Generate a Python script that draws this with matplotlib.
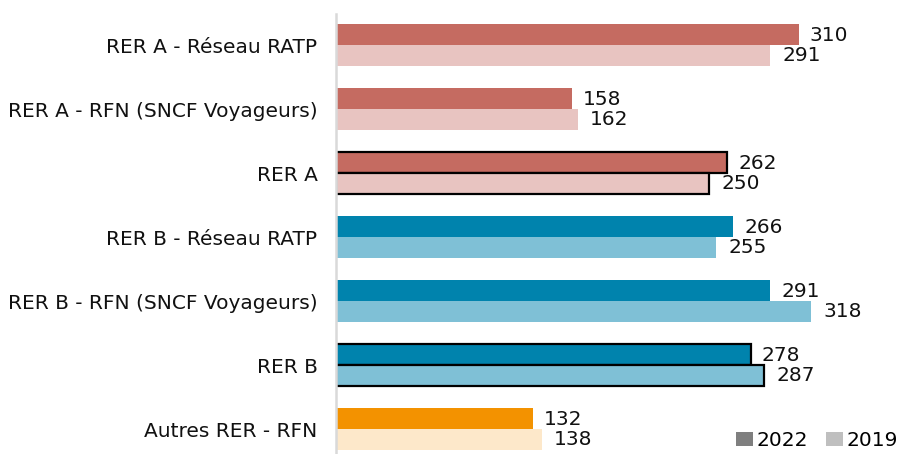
import matplotlib
matplotlib.use("Agg")
import matplotlib.pyplot as plt
from matplotlib.patches import Patch
import numpy as np

categories = ["RER A - Réseau RATP", "RER A - RFN (SNCF Voyageurs)", "RER A",
              "RER B - Réseau RATP", "RER B - RFN (SNCF Voyageurs)", "RER B",
              "Autres RER - RFN"]
values_2022 = [310, 158, 262, 266, 291, 278, 132]
values_2019 = [291, 162, 250, 255, 318, 287, 138]
series_labels = ["2022", "2019"]

colors_2022 = ["#C56B61", "#C56B61", "#C56B61", "#0083AD", "#0083AD", "#0083AD", "#F39200"]
colors_2019 = ["#E8C4C1", "#E8C4C1", "#E8C4C1", "#7FC0D6", "#7FC0D6", "#7FC0D6", "#FDE8CA"]
outlined = [False, False, True, False, False, True, False]

plt.rcParams['font.family'] = ['DejaVu Sans']
FS = 14.5

fig = plt.figure(figsize=(8.99, 4.54), dpi=100)
ax = fig.add_axes([335.5 / 899, 0, (899 - 335.5) / 899, 1 - 14 / 454])

y = np.arange(len(categories))
h = 0.333
for i in range(len(categories)):
    lw = 1.6 if outlined[i] else 0
    ec = "black" if outlined[i] else "none"
    ax.barh(y[i] - h / 2, values_2022[i], height=h, color=colors_2022[i],
            edgecolor=ec, linewidth=lw, zorder=3 if outlined[i] else 2)
    ax.barh(y[i] + h / 2, values_2019[i], height=h, color=colors_2019[i],
            edgecolor=ec, linewidth=lw, zorder=3 if outlined[i] else 2)
    ax.annotate(str(values_2022[i]), (values_2022[i], y[i] - h / 2),
                xytext=(8, -1), textcoords="offset points", va="center", ha="left",
                fontsize=FS, color="#111111")
    ax.annotate(str(values_2019[i]), (values_2019[i], y[i] + h / 2),
                xytext=(9, 0), textcoords="offset points", va="center", ha="left",
                fontsize=FS, color="#111111")

ax.set_xlim(0, 563.5 / 1.494)
ax.set_ylim((454 - 45) / 64, -(45 - 14) / 64)
ax.set_yticks(y)
ax.set_yticklabels(categories, fontsize=FS, color="#111111")
ax.tick_params(axis="y", length=0, pad=13)
ax.set_xticks([])
for s in ["top", "right", "bottom"]:
    ax.spines[s].set_visible(False)
ax.spines["left"].set_color("#D9D9D9")
ax.spines["left"].set_linewidth(1.8)
ax.spines["left"].set_zorder(5)

handles = [Patch(facecolor="#7F7F7F"), Patch(facecolor="#BFBFBF")]
fig.legend(handles, series_labels, loc="lower right", bbox_to_anchor=(1.014, -0.023),
           ncol=2, frameon=False, fontsize=FS, handlelength=0.85, handleheight=0.72,
           handletextpad=0.15, columnspacing=0.9, borderpad=0.2)

fig.savefig("out.png", dpi=100)
